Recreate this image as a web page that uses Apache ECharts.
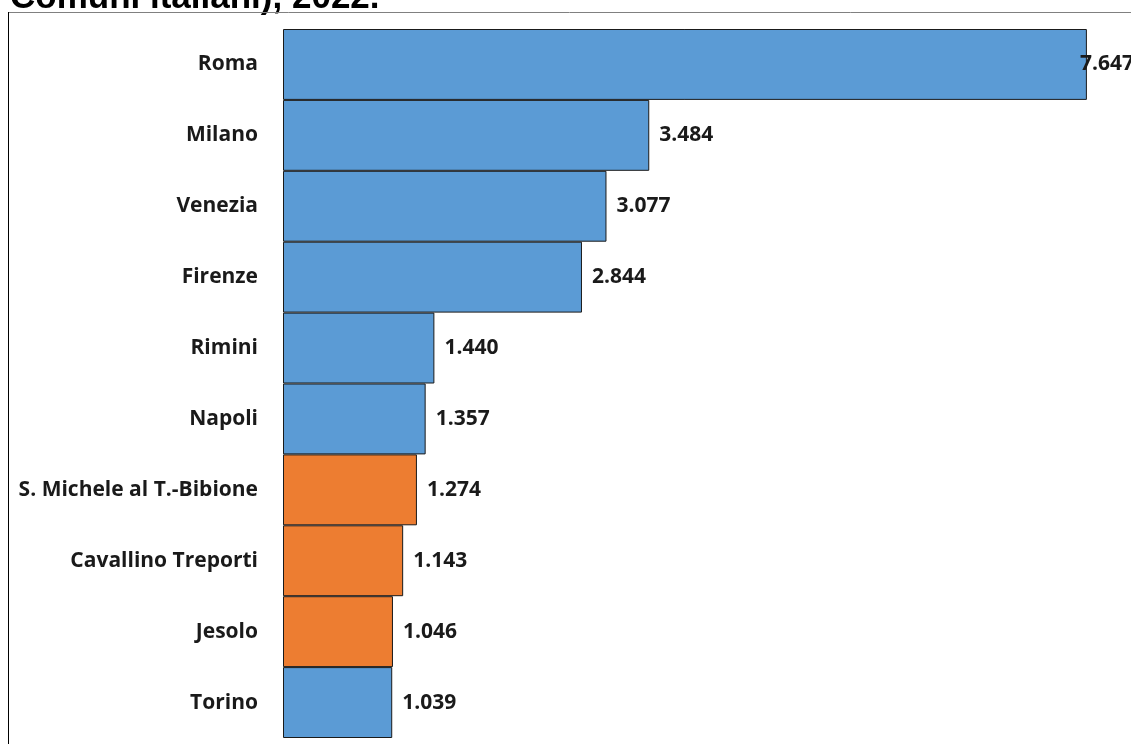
<!DOCTYPE html>
<html><head><meta charset="utf-8">
<script src="https://cdn.jsdelivr.net/npm/echarts@6/dist/echarts.min.js"></script>
<style>html,body{margin:0;padding:0;background:#fff;}#c{width:1131px;height:744px;}</style>
</head><body><div id="c"></div>
<script>
const categories = ["Roma","Milano","Venezia","Firenze","Rimini","Napoli","S. Michele al T.-Bibione","Cavallino Treporti","Jesolo","Torino"];
const values = [7.647,3.484,3.077,2.844,1.440,1.357,1.274,1.143,1.046,1.039];
const highlighted = ["S. Michele al T.-Bibione","Cavallino Treporti","Jesolo"];
const titleText = "Comuni italiani), 2022.";

const chart = echarts.init(document.getElementById('c'));
const FONT = "'Open Sans', sans-serif";
chart.setOption({
  animation: false,
  graphic: [
    {type: 'text', x: 10, y: -2, style: {text: titleText, fontFamily: "'Liberation Sans', Arial, sans-serif", fontWeight: 'bold', fontSize: 35, fill: '#000', verticalAlign: 'middle'}, z: 5},
    {type: 'line', shape: {x1: 8, y1: 12.5, x2: 1131, y2: 12.5}, style: {stroke: '#808080', lineWidth: 1}, z: 10},
    {type: 'line', shape: {x1: 8.5, y1: 12, x2: 8.5, y2: 744}, style: {stroke: '#000', lineWidth: 1}, z: 10}
  ],
  grid: {left: 283, right: 7, top: 29, bottom: 6, containLabel: false},
  xAxis: {type: 'value', min: 0, max: 8, show: false},
  yAxis: {type: 'category', data: categories, inverse: true,
    axisLine: {show: false}, axisTick: {show: false},
    axisLabel: {margin: 25, fontFamily: FONT, fontWeight: 'bold', fontSize: 21, color: '#1a1a1a'}},
  series: [{
    type: 'bar', barCategoryGap: 0, barWidth: '100%',
    data: values.map((v, i) => ({
      value: v,
      itemStyle: {color: highlighted.includes(categories[i]) ? '#ED7D31' : '#5B9BD5'},
      label: i === 0 ? {distance: -7} : undefined
    })),
    itemStyle: {borderColor: '#1a1a1a', borderWidth: 1},
    label: {show: true, position: 'right', distance: 10, fontFamily: FONT, fontWeight: 'bold', fontSize: 21, color: '#1a1a1a',
      formatter: p => p.value.toFixed(3)}
  }]
});
</script></body></html>
